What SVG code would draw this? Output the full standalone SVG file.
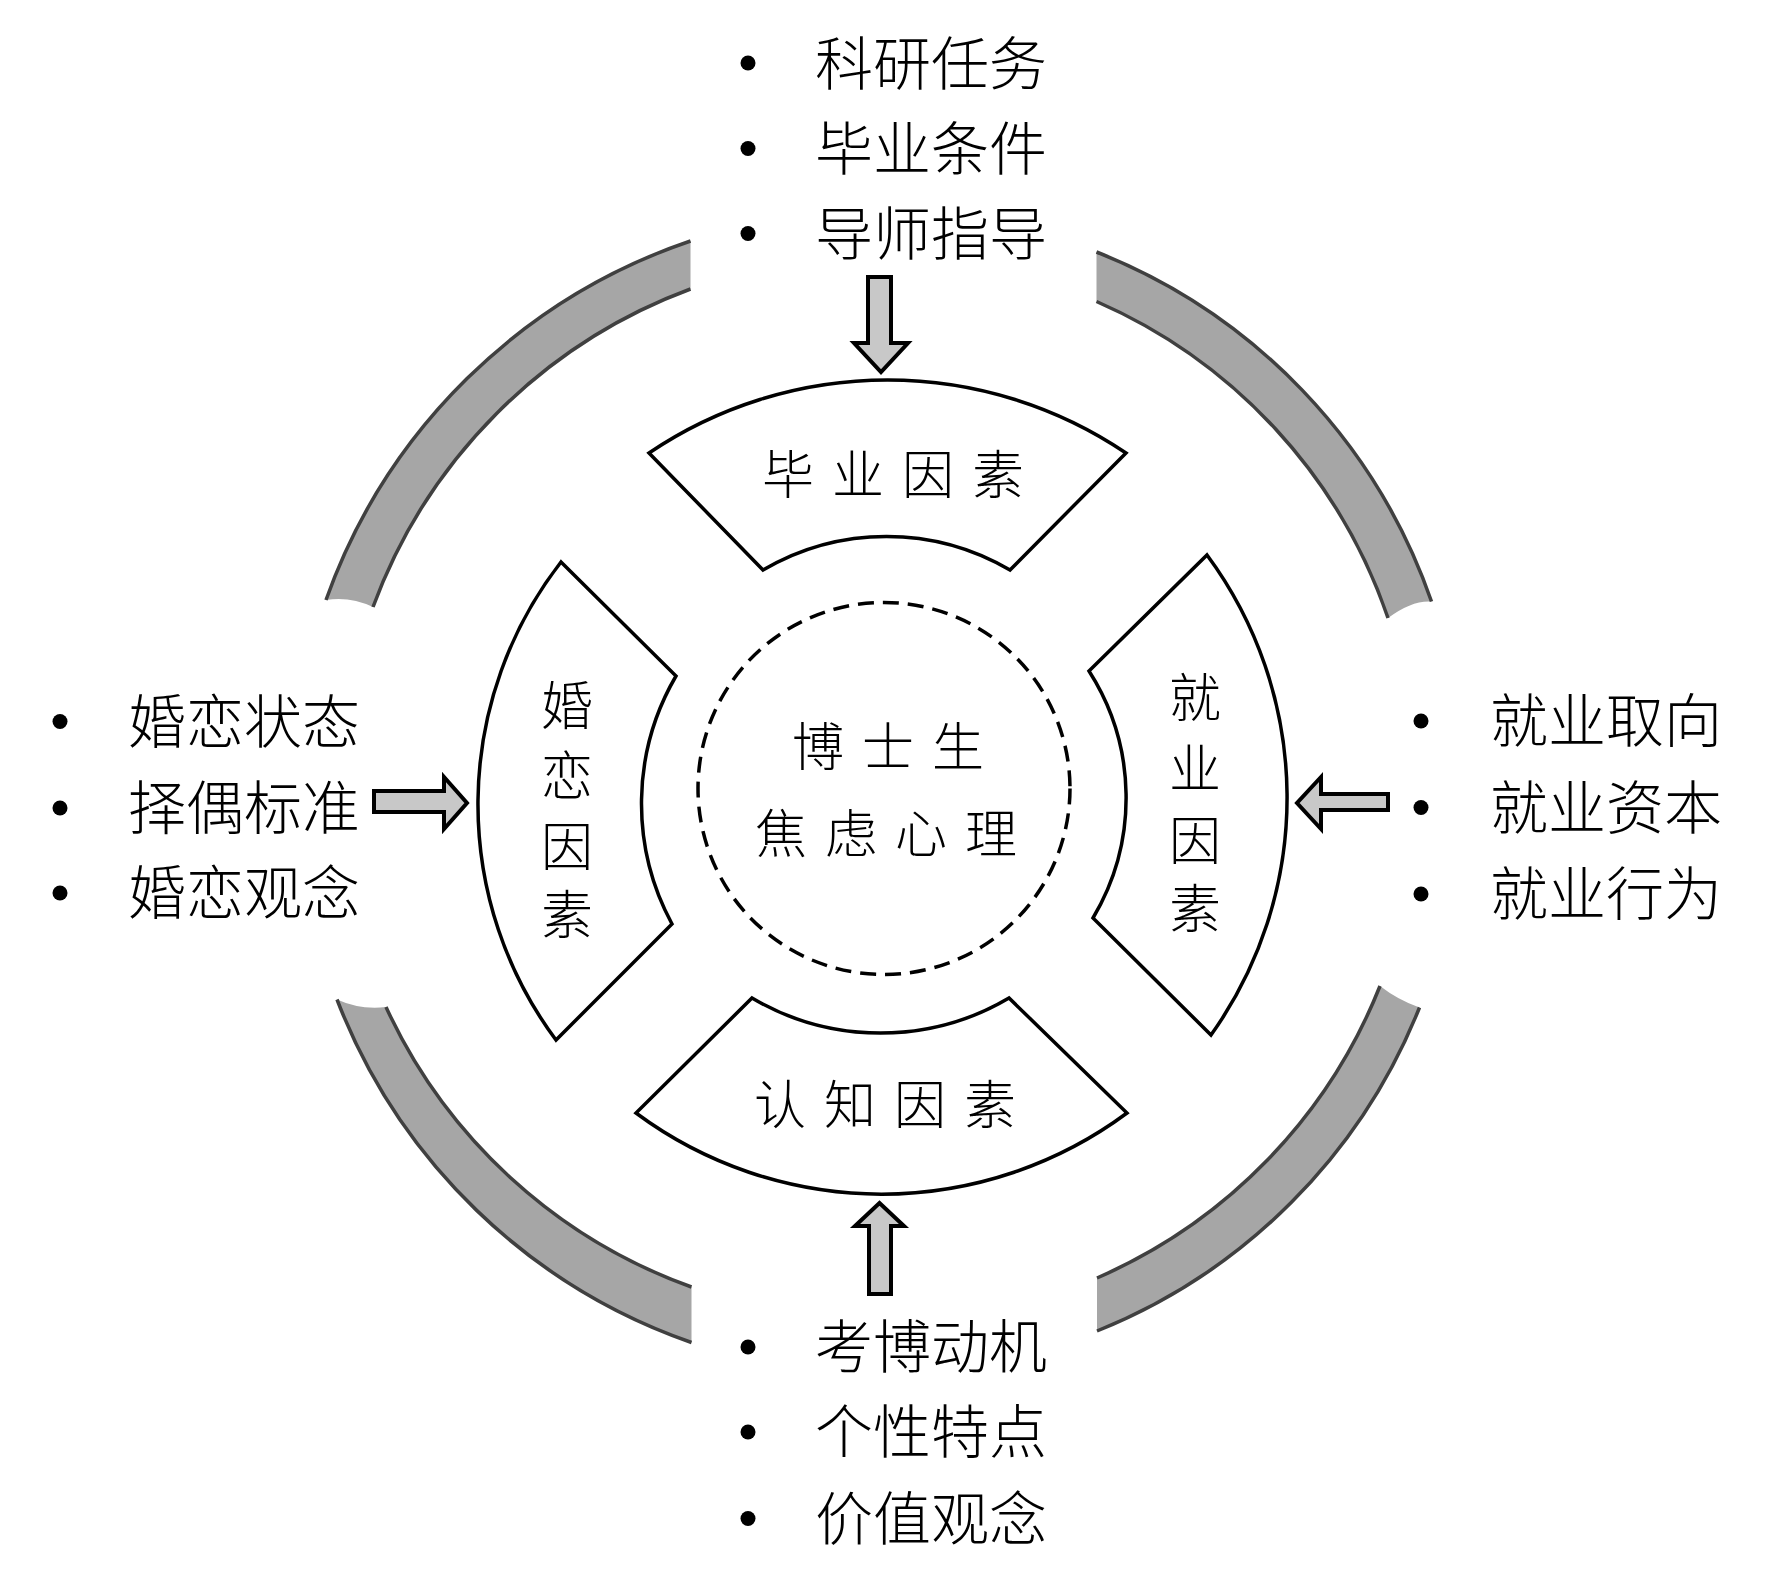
<svg xmlns="http://www.w3.org/2000/svg" width="1781" height="1569" viewBox="0 0 1781 1569">
  <style>
    .band { fill: #a6a6a6; stroke: none; }
    .bandEdge { fill: none; stroke: #404040; stroke-width: 3.5; }
    .sector { fill: #ffffff; stroke: #000000; stroke-width: 3.5; stroke-linejoin: miter; }
    .core { fill: #ffffff; stroke: #000000; stroke-width: 3.5; stroke-dasharray: 16 9; }
    .arrow { fill: #c8c8c8; stroke: #000000; stroke-width: 4; stroke-linejoin: miter; }
    .dot { fill: #000000; }
    .item { font-family: "Noto Sans CJK SC", "Noto Sans CJK JP", sans-serif; font-size: 58px; font-weight: 300; fill: #000000; }
    .label { font-family: "Noto Sans CJK SC", "Noto Sans CJK JP", sans-serif; font-size: 52px; font-weight: 300; fill: #000000; letter-spacing: 18px; }
    .vlabel { font-family: "Noto Sans CJK SC", "Noto Sans CJK JP", sans-serif; font-size: 52px; font-weight: 300; fill: #000000; text-anchor: middle; }
  </style>
  <rect x="0" y="0" width="1781" height="1569" fill="#ffffff"/>

  <g id="ring">
    <path class="band" d="M326,600 A586,586 0 0 1 690.5,241 L690.5,289 A537,537 0 0 0 373,607 Q350,596 326,600 Z"/>
    <path class="bandEdge" d="M326,600 A586,586 0 0 1 690.5,241"/>
    <path class="bandEdge" d="M690.5,289 A537,537 0 0 0 373,607"/>

    <path class="band" d="M1096.5,252 A580,580 0 0 1 1431.5,601.5 Q1412,600 1388,618 A533,533 0 0 0 1096.5,301.5 Z"/>
    <path class="bandEdge" d="M1096.5,252 A580,580 0 0 1 1431.5,601.5"/>
    <path class="bandEdge" d="M1388,618 A533,533 0 0 0 1096.5,301.5"/>

    <path class="band" d="M337,999.5 A586,586 0 0 0 691.5,1342.5 L691.5,1287 A535,535 0 0 1 386,1007 Q360,1010 337,999.5 Z"/>
    <path class="bandEdge" d="M337,999.5 A586,586 0 0 0 691.5,1342.5"/>
    <path class="bandEdge" d="M691.5,1287 A535,535 0 0 1 386,1007"/>

    <path class="band" d="M1097,1331 A580,580 0 0 0 1419.5,1007.5 Q1398,1000 1380,986 A533,533 0 0 1 1097,1278 Z"/>
    <path class="bandEdge" d="M1097,1331 A580,580 0 0 0 1419.5,1007.5"/>
    <path class="bandEdge" d="M1380,986 A533,533 0 0 1 1097,1278"/>
  </g>

  <g id="node-core">
    <circle class="core" cx="884" cy="788.5" r="186"/>
    <text class="label" x="792" y="766">博士生</text>
    <text class="label" x="755" y="853">焦虑心理</text>
  </g>

  <g id="node-graduation">
    <path class="sector" d="M649,453 A426,426 0 0 1 1126,453 L1010,570 A244,244 0 0 0 763,570 Z"/>
    <text class="label" x="762" y="494">毕业因素</text>
  </g>

  <g id="node-cognition">
    <path class="sector" d="M752,998 A253,253 0 0 0 1009,998 L1127,1113 A412,412 0 0 1 636,1113 Z"/>
    <text class="label" x="754" y="1124">认知因素</text>
  </g>

  <g id="node-marriage">
    <path class="sector" d="M561,562 L676,676 A253,253 0 0 0 672,924 L556,1040 A395,395 0 0 1 561,562 Z"/>
    <text class="vlabel"><tspan x="567" y="725">婚</tspan><tspan x="567" y="795">恋</tspan><tspan x="567" y="866">因</tspan><tspan x="567" y="934">素</tspan></text>
  </g>

  <g id="node-employment">
    <path class="sector" d="M1207,555 A408,408 0 0 1 1211,1035 L1093,918 A235,235 0 0 0 1089,671 Z"/>
    <text class="vlabel"><tspan x="1195" y="717">就</tspan><tspan x="1195" y="788">业</tspan><tspan x="1195" y="860">因</tspan><tspan x="1195" y="928">素</tspan></text>
  </g>

  <g id="list-top">
    <circle class="dot" cx="748" cy="63" r="7.5"/>
    <circle class="dot" cx="748" cy="148.5" r="7.5"/>
    <circle class="dot" cx="748" cy="233.5" r="7.5"/>
    <text class="item" x="815" y="85">科研任务</text>
    <text class="item" x="815" y="170">毕业条件</text>
    <text class="item" x="815" y="255">导师指导</text>
  </g>

  <g id="list-left">
    <circle class="dot" cx="60" cy="721.5" r="7.5"/>
    <circle class="dot" cx="60" cy="808" r="7.5"/>
    <circle class="dot" cx="60" cy="893" r="7.5"/>
    <text class="item" x="128" y="743">婚恋状态</text>
    <text class="item" x="128" y="829">择偶标准</text>
    <text class="item" x="128" y="914">婚恋观念</text>
  </g>

  <g id="list-right">
    <circle class="dot" cx="1421" cy="721" r="7.5"/>
    <circle class="dot" cx="1421" cy="807.5" r="7.5"/>
    <circle class="dot" cx="1421" cy="894" r="7.5"/>
    <text class="item" x="1490" y="742">就业取向</text>
    <text class="item" x="1490" y="829">就业资本</text>
    <text class="item" x="1490" y="915">就业行为</text>
  </g>

  <g id="list-bottom">
    <circle class="dot" cx="748" cy="1347" r="7.5"/>
    <circle class="dot" cx="748" cy="1432" r="7.5"/>
    <circle class="dot" cx="748" cy="1518.5" r="7.5"/>
    <text class="item" x="815" y="1368">考博动机</text>
    <text class="item" x="815" y="1453">个性特点</text>
    <text class="item" x="815" y="1540">价值观念</text>
  </g>

  <g id="connectors">
    <path class="arrow" d="M868,277 L891,277 L891,343 L908,343 L881,372 L854,343 L868,343 Z"/>
    <path class="arrow" d="M869,1294 L891,1294 L891,1226 L904,1226 L879.5,1203 L855,1226 L869,1226 Z"/>
    <path class="arrow" d="M374,791 L444,791 L444,777 L467,803 L444,829 L444,812 L374,812 Z"/>
    <path class="arrow" d="M1388,794 L1321,794 L1321,777 L1297,803 L1321,829 L1321,810 L1388,810 Z"/>
  </g>
</svg>
